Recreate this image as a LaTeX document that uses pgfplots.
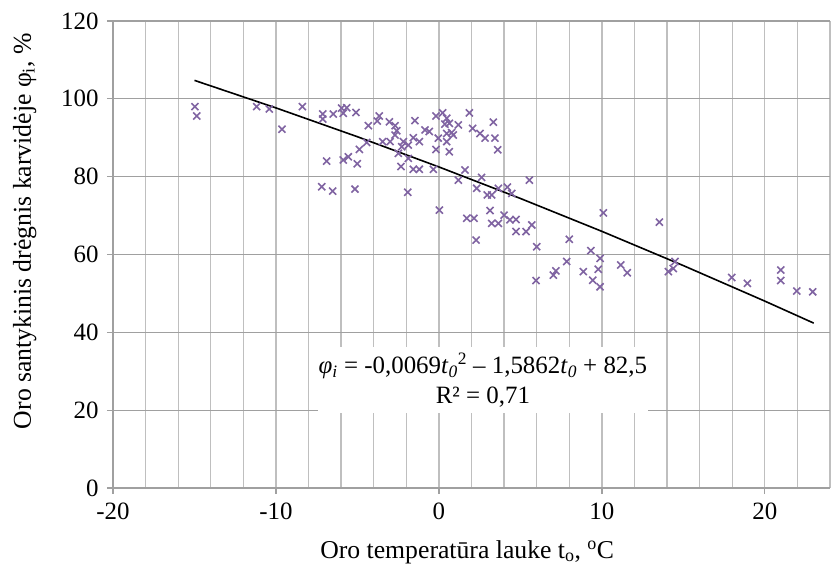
\documentclass[border=0pt]{standalone}
\usepackage{fontspec}
\setmainfont{Liberation Serif}
\usepackage{pgfplots}
\pgfplotsset{compat=1.18}
\definecolor{pts}{RGB}{128,100,162}
\definecolor{gridv}{RGB}{191,191,191}
\definecolor{gridh}{RGB}{160,160,160}

\begin{document}
\fontsize{25}{30}\selectfont
\begin{tikzpicture}
\begin{axis}[
    scale only axis,
    width=717bp, height=467bp,
    xmin=-20, xmax=24, ymin=0, ymax=120,
    axis lines=left,
    axis line style={gridh, line width=1.3bp, -},
    xtick={-20,-10,0,10,20}, xticklabels={-20,-10,0,10,20},
    minor xtick={-18,-16,...,24},
    ytick={0,20,...,120}, yticklabels={0,20,40,60,80,100,120},
    grid=both,
    major x grid style={gridv, line width=1.3bp},
    minor x grid style={gridv, line width=1.3bp},
    major y grid style={gridh, line width=1.3bp},
    tick align=outside, major tick length=6bp, minor tick length=0pt,
    tick style={gridh, line width=1.3bp},
    ticklabel style={font=\fontsize{25}{30}\selectfont},
    xlabel={Oro temperatūra lauke t\textsubscript{o}, \textsuperscript{o}C},
    ylabel={Oro santykinis drėgnis karvidėje φ\textsubscript{i}, \%},
    label style={font=\fontsize{25.8}{30}\selectfont},
    xlabel style={at={(axis description cs:0.494,0)}, anchor=center, yshift=-64bp},
    ylabel style={at={(axis description cs:-0.123,0.55)}, anchor=center},
]
\addplot[only marks, mark=x, mark size=5bp, mark options={pts, line width=1.6bp}] coordinates {
(-14.97,98.0)(-14.86,95.6)(-11.18,98.0)(-10.41,97.4)(-9.63,92.2)(-8.38,98.0)
(-7.13,96.1)(-7.13,94.8)(-7.19,77.4)(-6.89,84.0)(-6.52,76.3)(-6.48,96.1)
(-5.97,97.6)(-5.87,96.3)(-5.66,97.7)(-5.87,84.3)(-5.56,85.1)(-5.15,76.8)
(-5.09,96.5)(-5.01,83.3)(-4.88,87.0)(-4.43,88.8)(-4.33,93.1)(-3.78,94.3)
(-3.66,95.6)(-3.45,89.0)(-3.04,94.1)(-3.00,89.0)(-2.69,93.1)(-2.69,90.7)
(-2.59,91.8)(-2.49,86.0)(-2.33,82.6)(-2.28,87.7)(-2.18,89.0)(-1.91,76.0)
(-1.88,88.1)(-1.88,84.7)(-1.57,90.0)(-1.57,81.9)(-1.47,94.4)(-1.20,89.0)
(-1.20,81.9)(-0.85,92.0)(-0.59,91.6)(-0.34,81.9)(-0.18,95.6)(-0.18,87.0)
(-0.04,89.9)(0.03,71.4)(0.23,96.4)(0.48,95.0)(0.64,93.7)(0.37,93.5)
(0.48,91.1)(0.78,91.3)(0.88,90.7)(0.48,89.0)(0.64,86.4)(1.19,93.3)
(1.87,96.4)(2.07,92.4)(2.52,91.1)(2.83,89.9)(3.34,94.0)(3.44,89.9)
(3.61,86.9)(1.19,79.1)(1.60,81.7)(2.32,77.0)(2.62,79.8)(2.97,75.3)
(3.24,75.3)(3.65,77.0)(4.20,77.3)(4.47,75.7)(5.55,79.1)(1.71,69.3)
(2.15,69.3)(2.28,63.7)(3.14,71.3)(3.24,68.0)(3.65,68.0)(4.00,70.1)
(4.36,68.9)(4.73,69.0)(4.73,65.9)(5.35,65.9)(5.70,67.6)(6.00,62.0)
(5.96,53.3)(7.02,54.7)(7.18,55.8)(7.84,58.2)(8.00,63.9)(8.86,55.6)
(9.32,61.0)(9.44,53.4)(9.78,56.2)(9.89,59.0)(9.89,51.7)(10.09,70.7)
(11.16,57.3)(11.56,55.3)(13.53,68.3)(14.08,55.6)(14.38,56.4)(14.49,58.2)
(17.97,54.1)(18.93,52.6)(20.98,56.0)(20.98,53.3)(21.96,50.6)(22.94,50.4)
};
\addplot[black, line width=1.6bp, no marks] coordinates {
(-15,104.74)(-10,97.67)(-5,90.26)(0,82.5)(5,74.40)(10,65.95)(15,57.15)(20,48.02)(23,42.37)
};
\node[fill=white, minimum width=330bp, minimum height=66bp, inner sep=0pt, align=center]
  at (axis cs:2.7,27.75)
  {\textit{φ}\textsubscript{\textit{i}} = -0,0069\textit{t}\textsubscript{\textit{0}}\textsuperscript{2} – 1,5862\textit{t}\textsubscript{\textit{0}} + 82,5\\R² = 0,71};
\end{axis}
\pgfresetboundingbox
\path (-113bp,-86bp) rectangle (720bp,488bp);
\end{tikzpicture}
\end{document}
